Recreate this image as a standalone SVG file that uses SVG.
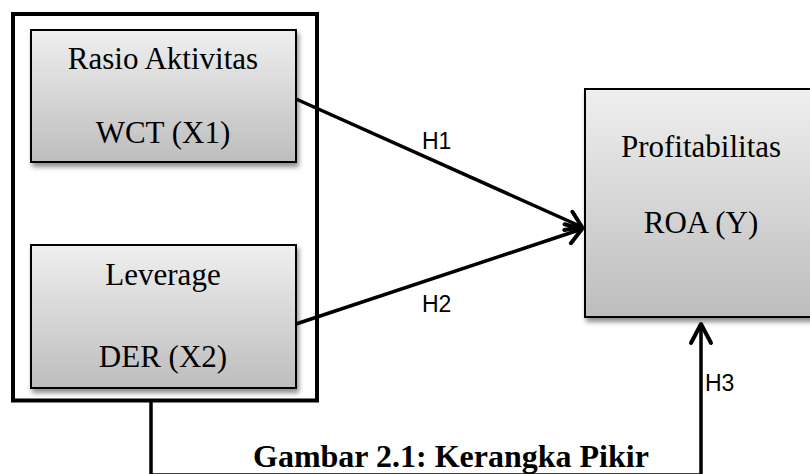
<svg xmlns="http://www.w3.org/2000/svg" width="810" height="474" viewBox="0 0 810 474">
<defs>
<linearGradient id="g" x1="0" y1="0" x2="0" y2="1">
<stop offset="0" stop-color="#efefef"/>
<stop offset="1" stop-color="#bdbdbd"/>
</linearGradient>
<filter id="sh" x="-10%" y="-10%" width="130%" height="130%">
<feGaussianBlur in="SourceAlpha" stdDeviation="2.5"/>
<feOffset dx="2" dy="4" result="b"/>
<feComponentTransfer><feFuncA type="linear" slope="0.45"/></feComponentTransfer>
<feMerge><feMergeNode/><feMergeNode in="SourceGraphic"/></feMerge>
</filter>
<marker id="ah" markerUnits="userSpaceOnUse" viewBox="-20 -12 24 24" refX="0" refY="0" markerWidth="24" markerHeight="24" orient="auto">
<path d="M-15,-10 L0,0 L-15,10" fill="none" stroke="#000" stroke-width="4" stroke-linecap="round" stroke-linejoin="round"/>
</marker>
<marker id="ah3" markerUnits="userSpaceOnUse" viewBox="-24 -14 28 28" refX="0" refY="0" markerWidth="28" markerHeight="28" orient="auto">
<path d="M-19,-10 L0,0 L-19,10" fill="none" stroke="#000" stroke-width="4" stroke-linecap="round" stroke-linejoin="round"/>
</marker>
</defs>
<style>
.box{fill:url(#g);stroke:#000;stroke-width:2;filter:url(#sh)}
.t{font-family:"Liberation Serif","Times New Roman",serif;font-size:31px;fill:#000;text-anchor:middle}
.h{font-family:"Liberation Sans",Arial,sans-serif;font-size:23px;fill:#000}
.c{fill:none;stroke:#000;stroke-width:3.5}
.cap{font-family:"Liberation Serif","Times New Roman",serif;font-size:32px;font-weight:bold;fill:#000}
</style>
<rect x="0" y="0" width="810" height="474" fill="#fff"/>
<g id="group">
<rect x="13" y="14" width="304" height="386.5" fill="none" stroke="#000" stroke-width="4"/>
</g>
<g id="x1">
<rect class="box" x="31" y="30" width="265" height="132"/>
<text class="t" x="163" y="69">Rasio Aktivitas</text>
<text class="t" x="163" y="143">WCT (X1)</text>
</g>
<g id="x2">
<rect class="box" x="31" y="245" width="265" height="143"/>
<text class="t" x="163" y="285">Leverage</text>
<text class="t" x="163" y="367">DER (X2)</text>
</g>
<g id="y">
<rect class="box" x="585" y="89" width="240" height="228"/>
<text class="t" x="701" y="157">Profitabilitas</text>
<text class="t" x="701" y="233">ROA (Y)</text>
</g>
<g id="connectors">
<line class="c" x1="296" y1="99" x2="582" y2="227" marker-end="url(#ah)"/>
<line class="c" x1="296" y1="324" x2="582" y2="229" marker-end="url(#ah)"/>
<path class="c" d="M151,402 V475 H701 V324" marker-end="url(#ah3)"/>
<text class="h" x="422" y="149">H1</text>
<text class="h" x="422" y="312">H2</text>
<text class="h" x="705" y="391">H3</text>
</g>
<text class="cap" x="253" y="467">Gambar 2.1: Kerangka Pikir</text>
</svg>
